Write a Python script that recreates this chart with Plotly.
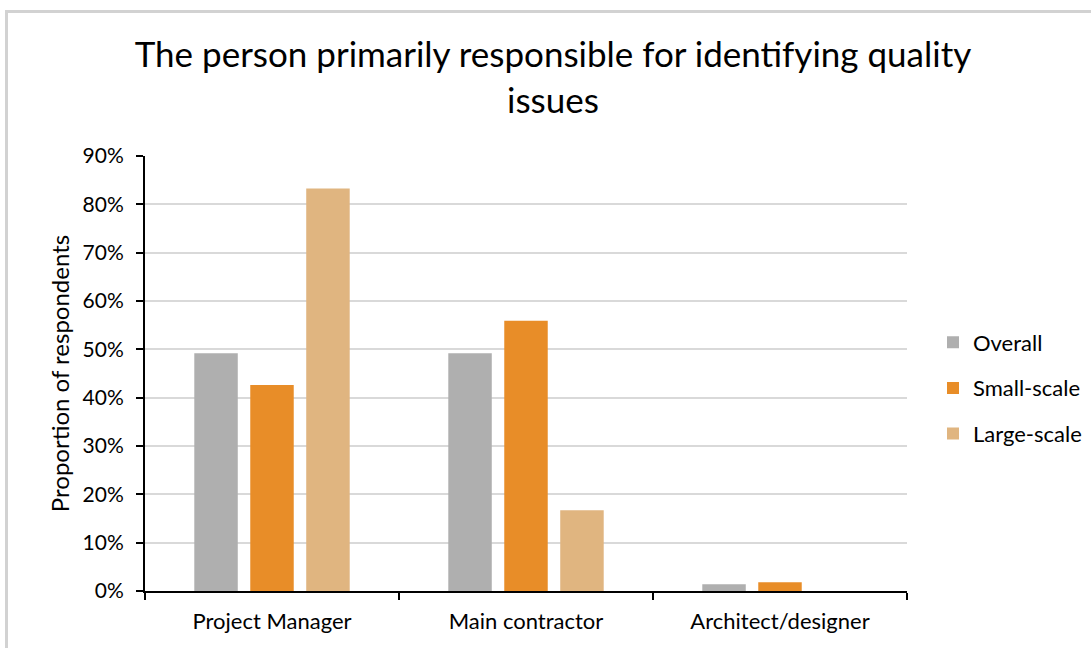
import plotly.graph_objects as go

categories = ["Project Manager", "Main contractor", "Architect/designer"]
overall = [49.2, 49.2, 1.4]
small_scale = [42.6, 55.9, 1.8]
large_scale = [83.3, 16.7, 0.0]
series_names = ["Overall", "Small-scale", "Large-scale"]
series_colors = ["#afafaf", "#e88d28", "#e0b580"]
y_ticks = [0, 10, 20, 30, 40, 50, 60, 70, 80, 90]
y_tick_labels = [f"{v}%" for v in y_ticks]

FONT = "Lato"
W, H = 1091, 648
L, R, T, B = 145, 184, 156, 57

fig = go.Figure()
for i, (name, vals, col) in enumerate(zip(series_names, [overall, small_scale, large_scale], series_colors)):
    fig.add_trace(go.Bar(
        x=categories, y=vals, name=name,
        marker=dict(color=col, line=dict(width=0)),
        legendgroup=f"g{i}",
    ))

# light frame around the chart area (top and left edges visible)
pw, ph = W - L - R, H - T - B
def px_x(p):
    return (p - L) / pw
def px_y(p):
    return (H - B - p) / ph

fig.add_shape(type="rect", xref="paper", yref="paper",
              x0=px_x(6.5), x1=px_x(1120), y0=px_y(11.5), y1=px_y(680),
              line=dict(color="#d2d2d2", width=3), fillcolor="rgba(0,0,0,0)", layer="below")

fig.update_layout(
    width=W, height=H,
    margin=dict(l=L, r=R, t=T, b=B, pad=0, autoexpand=False),
    paper_bgcolor="white", plot_bgcolor="white",
    font=dict(family=FONT, color="#000000", size=21),
    title=dict(
        text="The person primarily responsible for identifying quality<br>issues",
        x=553 / W, xref="container", xanchor="center",
        y=1 - 67 / H, yref="container", yanchor="middle",
        font=dict(family=FONT, size=35, color="#000000"),
    ),
    barmode="group", bargap=0.339, bargroupgap=0.223,
    showlegend=True,
    legend=dict(
        xref="container", yref="container",
        x=933 / W, xanchor="left", y=1 - 388 / H, yanchor="middle",
        font=dict(family=FONT, size=22, color="#000000"),
        tracegroupgap=14, itemwidth=30, bgcolor="rgba(0,0,0,0)",
    ),
    xaxis=dict(
        type="category", showgrid=False, showline=True, linecolor="#000000", linewidth=2,
        ticks="outside", tickson="boundaries", ticklen=7, tickwidth=2, tickcolor="#000000",
        tickfont=dict(family=FONT, size=22), ticklabelstandoff=10, fixedrange=True,
    ),
    yaxis=dict(
        range=[0, 90], tickvals=y_ticks, ticktext=y_tick_labels,
        showgrid=True, gridcolor="#d9d9d9", gridwidth=1.5,
        showline=True, linecolor="#000000", linewidth=2, zeroline=False,
        ticks="outside", ticklen=7, tickwidth=2, tickcolor="#000000",
        tickfont=dict(family=FONT, size=21), ticklabelstandoff=8,
        title=dict(text="Proportion of respondents", font=dict(family=FONT, size=24), standoff=6),
    ),
)

fig.write_html("out.html")
